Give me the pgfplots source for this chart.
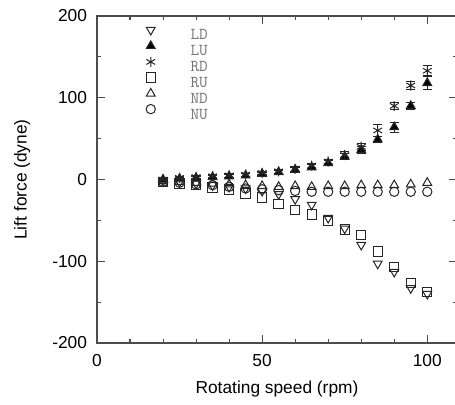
\documentclass[border=0pt]{standalone}
\usepackage{fontspec}
\setmainfont{Liberation Sans}
\usepackage{pgfplots}
\usepackage{pgfplotstable}
\pgfplotsset{compat=1.18}
\usetikzlibrary{calc}

% lift force (dyne) vs rotating speed (rpm)
\pgfplotstableread{
x    LD    LU   RD    RU    ND   NU    eLU  eRD
20   -2    0    0     -3    -2   -3    2    2
25   -3    1    2     -5    -3   -4    2    2
30   -5    2    3     -7    -4   -6    2    2
35   -7    3    4     -10   -5   -7    2    2
40   -9    4    5     -13   -6   -9    2    2
45   -11   5    6     -17   -7   -11   2    2
50   -14   7    8     -22   -8   -12   2    2
55   -18   9    10    -30   -9   -13   2    2
60   -24   12   13    -37   -8   -14   3    3
65   -31   15   17    -43   -9   -15   3    3
70   -47   20   22    -51   -8   -15   3    3
75   -60   28   30    -61   -8   -15   4    4
80   -80   36   40    -68   -7   -15   4    4
85   -103  49   60    -88   -7   -15   4    7
90   -113  64   90    -107  -7   -15   6    4
95   -133  90   115   -127  -6   -15   4    5
100  -140  118  133   -138  -4   -15   8    6
}\lift

\begin{document}
\begin{tikzpicture}[font=\fontsize{13}{15}\selectfont]
\begin{axis}[
  scale only axis,
  width=270pt, height=245.25pt,
  xmin=0, xmax=109, ymin=-200, ymax=200,
  xtick={0,50,100}, minor x tick num=4,
  ytick={-200,-100,0,100,200}, minor y tick num=1,
  tick align=inside, tick pos=both,
  major tick length=6pt, minor tick length=3pt,
  axis line style={black!70,line width=0.9pt},
  tick style={black!70,line width=0.8pt},
  /pgf/number format/assume math mode=true,
  xticklabel style={yshift=-5pt},
  yticklabel style={xshift=-4pt},
  xlabel={Rotating speed (rpm)},
  ylabel={Lift force (dyne)},
  xlabel style={at={(axis description cs:0.5,-0.14)},anchor=center},
  ylabel style={at={(axis description cs:-0.208,0.5)},anchor=center},
  error bars/error bar style={line width=0.6pt,black!85},
  error bars/error mark options={rotate=90,mark size=3.5pt,line width=0.6pt,black!85},
  legend image code/.code={\path (0,0) (0.6cm,0);
    \draw[#1,yshift=3.7pt] plot coordinates {(0.3cm,0cm)};},
  legend cell align=left,
  legend style={at={(rel axis cs:0.1156,0.966)},anchor=north west,
    draw=none,fill=none,inner sep=0pt,row sep=0.75pt,column sep=21pt,
    nodes={inner sep=0pt,text height=7.5pt,text depth=0pt,
      text=black!55,font=\ttfamily\fontsize{12.5}{12.5}\selectfont}},
]
  \addplot[only marks,black!85,line width=0.75pt,mark=triangle,mark size=3.8pt,
    mark options={rotate=180,solid}]
    table[x=x,y=LD]{\lift};
  \addplot[only marks,black!85,line width=0.75pt,mark=triangle*,mark size=3.8pt,
    mark options={fill=black,solid},
    error bars/.cd,y dir=both,y explicit]
    table[x=x,y=LU,y error=eLU]{\lift};
  \addplot[only marks,black!85,line width=0.75pt,mark=asterisk,mark size=3.8pt,
    mark options={solid},
    error bars/.cd,y dir=both,y explicit]
    table[x=x,y=RD,y error=eRD]{\lift};
  \addplot[only marks,black!85,line width=0.75pt,mark=square,mark size=3.5pt,
    mark options={solid}]
    table[x=x,y=RU]{\lift};
  \addplot[only marks,black!85,line width=0.75pt,mark=triangle,mark size=3.8pt,
    mark options={solid}]
    table[x=x,y=ND]{\lift};
  \addplot[only marks,black!85,line width=0.75pt,mark=o,mark size=3.5pt,
    mark options={solid}]
    table[x=x,y=NU]{\lift};
  \legend{LD,LU,RD,RU,ND,NU}
  \coordinate (sw) at (rel axis cs:0,0);
  \coordinate (ne) at (rel axis cs:1,1);
\end{axis}
\pgfresetboundingbox
\path[use as bounding box] ($(sw)+(-72.75pt,-46.5pt)$) rectangle ($(ne)+(-1.5pt,12pt)$);
\end{tikzpicture}
\end{document}
